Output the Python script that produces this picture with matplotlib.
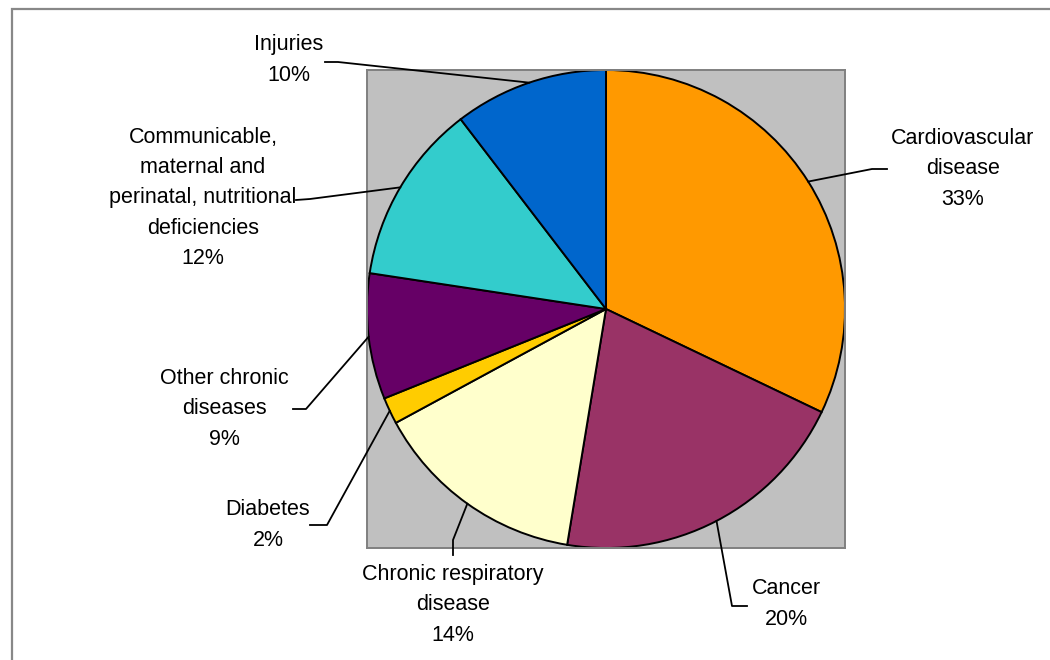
import numpy as np
import matplotlib
matplotlib.use('Agg')
import matplotlib.pyplot as plt
from matplotlib.patches import Rectangle

plt.rcParams['font.family'] = ['Liberation Sans', 'DejaVu Sans']

labels = ['Cardiovascular\ndisease', 'Cancer', 'Chronic respiratory\ndisease',
          'Diabetes', 'Other chronic\ndiseases',
          'Communicable,\nmaternal and\nperinatal, nutritional\ndeficiencies',
          'Injuries']
# slice sizes as drawn, and the percentages printed on the labels
shares = [32.1, 20.5, 14.5, 1.8, 8.5, 12.2, 10.4]
pct_text = ['33%', '20%', '14%', '2%', '9%', '12%', '10%']
colors = ['#FF9900', '#993366', '#FFFFCC', '#FFCC00', '#660066', '#33CCCC',
          '#0066CC']

# label layout in pixels: text centre, leader start, leader elbow
W, H = 1050, 660
cx, cy, rad = 606, 309, 239
label_layout = [
    ((963, 169), (887, 169), (872, 169)),
    ((786, 604), (747, 606), (732, 606)),
    ((453, 605), (453, 555), (453, 540)),
    ((268, 525), (310, 525), (327, 525)),
    ((224, 409), (293, 409), (306, 409)),
    ((203, 198), (296, 200), (310, 199)),
    ((289, 60), (325, 62), (338, 62)),
]


def to_data(p):
    return ((p[0] - cx) / rad, (cy - p[1]) / rad)


fig = plt.figure(figsize=(10.5, 6.6), dpi=100)
fig.patches.append(Rectangle((12 / W, -0.1), 1.2, 1 - 9 / H + 0.1,
                             transform=fig.transFigure, facecolor='white',
                             edgecolor='#888888', linewidth=1.6, zorder=-10))

ax = fig.add_axes([(cx - rad) / W, 1 - (cy + rad) / H, 2 * rad / W,
                   2 * rad / H])

wedges, _ = ax.pie(shares, colors=colors, startangle=90, counterclock=False,
                   radius=1, center=(0, 0),
                   wedgeprops={'edgecolor': 'black', 'linewidth': 1.4})
ax.set_frame_on(True)
ax.set_facecolor('#C0C0C0')
for s in ax.spines.values():
    s.set_edgecolor('#808080')
    s.set_linewidth(1.4)
ax.set_xlim(-1, 1)
ax.set_ylim(-1, 1)
ax.set_aspect('auto')
ax.set_xticks([])
ax.set_yticks([])

for w, lab, pct, (tpos, start, elbow) in zip(wedges, labels, pct_text,
                                             label_layout):
    mid = np.deg2rad((w.theta1 + w.theta2) / 2)
    edge = (np.cos(mid), np.sin(mid))
    p0, p1 = to_data(start), to_data(elbow)
    ax.plot([p0[0], p1[0], edge[0]], [p0[1], p1[1], edge[1]],
            color='black', linewidth=1.3, clip_on=False, zorder=5)
    tx, ty = to_data(tpos)
    ax.text(tx, ty, f'{lab}\n{pct}', ha='center', va='center',
            fontsize=15.5, linespacing=1.58, clip_on=False)

fig.savefig('out.png', dpi=100)
